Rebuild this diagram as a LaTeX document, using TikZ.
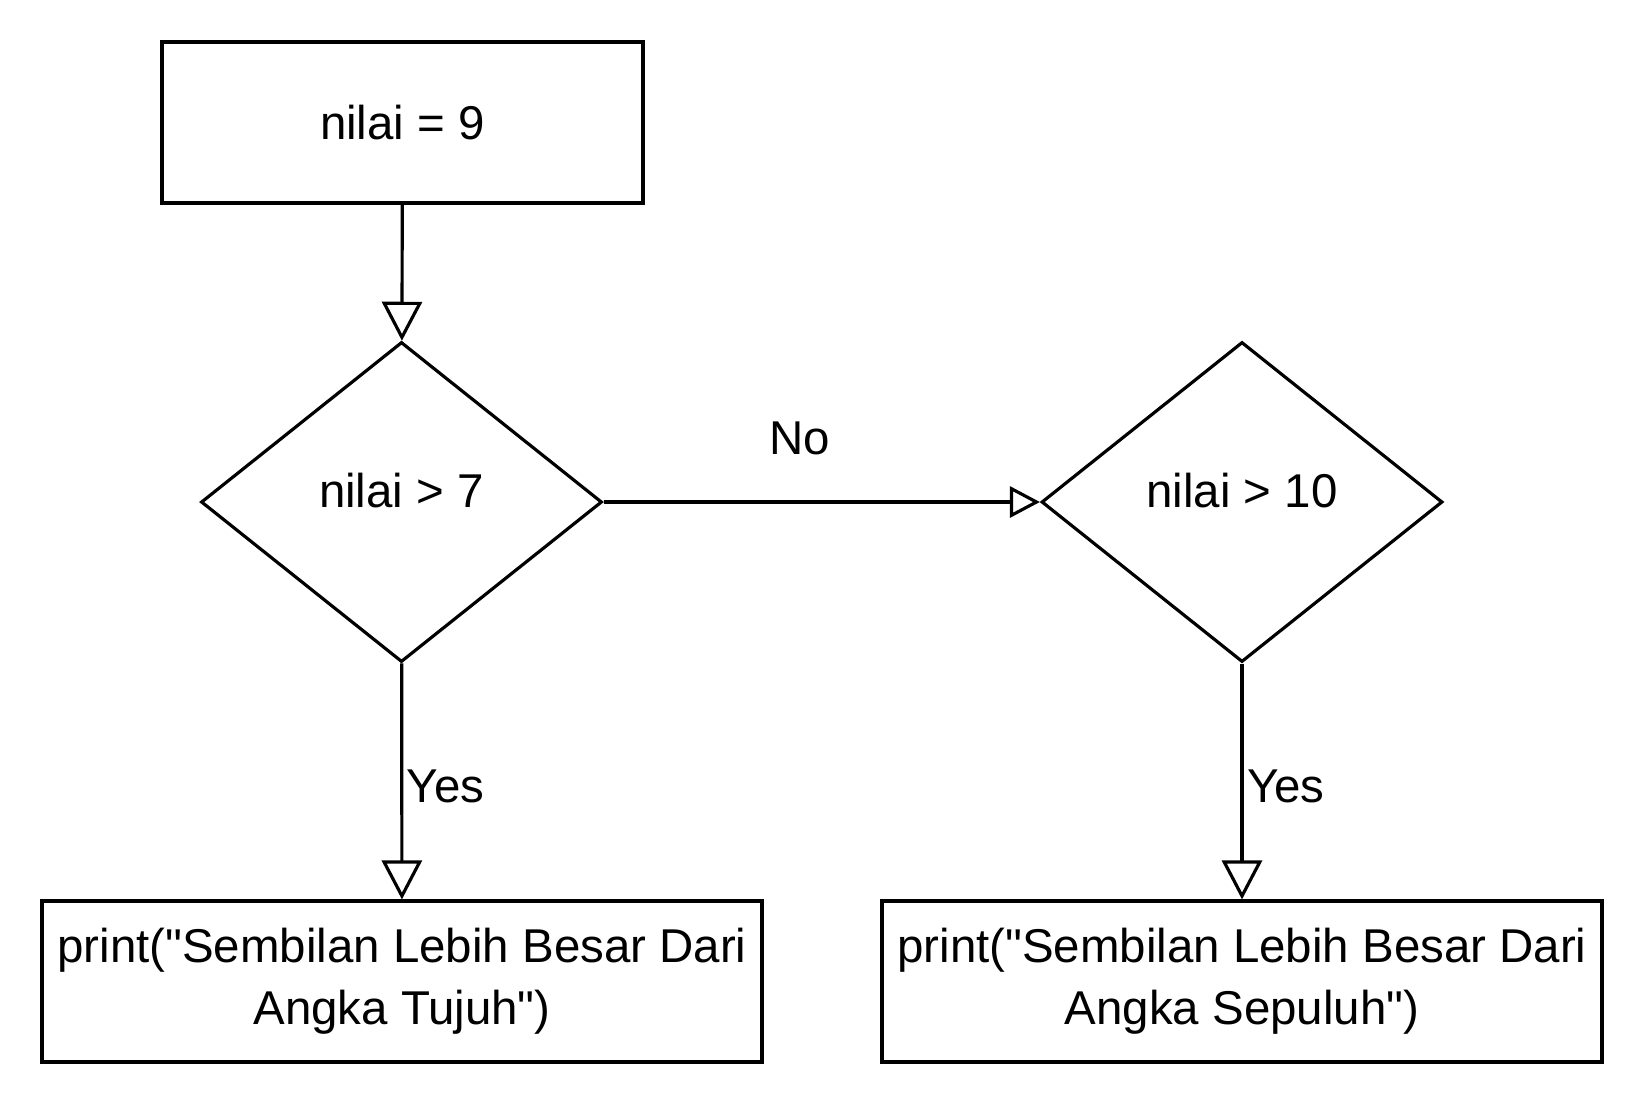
\documentclass[tikz,border=0pt]{standalone}
\usepackage{fontspec}
\setmainfont{Liberation Sans}
\usetikzlibrary{arrows.meta,shapes.geometric,positioning}

\begin{document}
\begin{tikzpicture}[
        every node/.style={font=\fontsize{27}{35.5}\selectfont},
        box/.style={draw, line width=1.8pt, rectangle, inner sep=0pt, minimum width=#1, minimum height=3.22cm, align=center},
        cond/.style={draw, line width=1.8pt, diamond, inner sep=0pt, minimum width=8.02cm, minimum height=6.4cm,
                label={[yshift=0.22cm]center:#1}},
        arr/.style={line width=1.8pt, -{Triangle[open, length=0.78cm, width=0.8cm, line width=1.8pt]}},
        arrsmall/.style={line width=1.8pt, -{Triangle[open, length=0.6cm, width=0.62cm, line width=1.8pt]}}
        ]
        \useasboundingbox (0, 0) rectangle (32.88, -22.16);
        % boxes and conditions
        \node[box=9.62cm] (start) at (8.05, -2.45) {nilai = 9};
        \node[cond={nilai > 7}] (cek7) at (8.03, -10.04) {};
        \node[cond={nilai > 10}] (cek10) at (24.84, -10.04) {};
        \node[box=14.4cm] (tujuh) at (8.04, -19.63)
                {print(\textquotedbl Sembilan Lebih Besar Dari\\Angka Tujuh\textquotedbl)};
        \node[box=14.4cm] (sepuluh) at (24.84, -19.63)
                {print(\textquotedbl Sembilan Lebih Besar Dari\\Angka Sepuluh\textquotedbl)};
        % connectors
        \draw[arr] (start) -- (cek7);
        \draw[arr] (cek7) -- node[right, inner sep=2pt, yshift=-0.1cm] {Yes} (tujuh);
        \draw[arr] (cek10) -- node[right, inner sep=2pt, yshift=-0.1cm] {Yes} (sepuluh);
        \draw[arrsmall] (cek7) -- node[pos=0.45, above=0.8cm] {No} (cek10);
\end{tikzpicture}
\end{document}
